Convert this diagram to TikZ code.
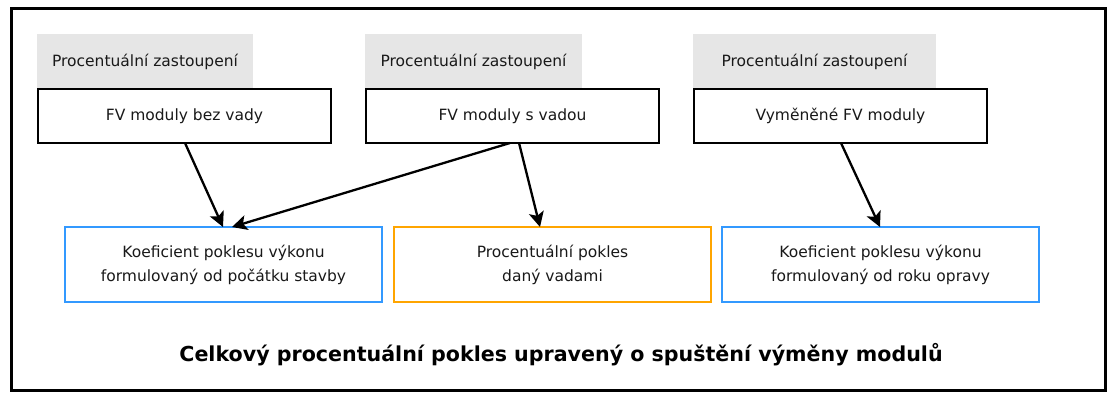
\documentclass[tikz,border=0pt]{standalone}
\usepackage{fontspec}
\setmainfont{DejaVu Sans}
\usetikzlibrary{arrows.meta,calc}
\definecolor{grayfill}{HTML}{E6E6E6}
\definecolor{boxblue}{HTML}{3399FF}
\definecolor{boxorange}{HTML}{FFA500}
\tikzset{
  pct/.style={anchor=north west, fill=grayfill, draw=none, inner sep=0pt, outer sep=0pt,
    font=\fontsize{15.5}{18}\selectfont, text=black!90},
  modbox/.style={anchor=north west, draw=black, line width=2.3pt, fill=white, inner sep=0pt, outer sep=0pt,
    minimum width=293pt, minimum height=54pt, font=\fontsize{15.5}{18}\selectfont, text=black!90},
  coefbox/.style={anchor=north west, line width=2.3pt, fill=white, inner sep=0pt, outer sep=0pt,
    minimum width=317pt, minimum height=75pt, align=center, font=\fontsize{15.5}{24}\selectfont, text=black!90},
  conn/.style={line width=2.3pt, -{Stealth[length=15pt,width=15pt,inset=3.5pt]}},
}
\begin{document}
\begin{tikzpicture}[x=1pt,y=-1pt]
\useasboundingbox (0,0) rectangle (1115,392);
\draw[line width=3pt] (11,8) rectangle (1105,390);
% grey header boxes
\node[pct, minimum width=216pt, minimum height=55pt] (g1) at (37,34) {Procentuální zastoupení};
\node[pct, minimum width=217pt, minimum height=55pt] (g2) at (365,34) {Procentuální zastoupení};
\node[pct, minimum width=243pt, minimum height=55pt] (g3) at (693,34) {Procentuální zastoupení};
% module boxes
\node[modbox] (m1) at (38,89) {FV moduly bez vady};
\node[modbox] (m2) at (366,89) {FV moduly s vadou};
\node[modbox] (m3) at (694,89) {Vyměněné FV moduly};
% bottom boxes
\node[coefbox, draw=boxblue] (c1) at (65,227) {Koeficient poklesu výkonu\\formulovaný od počátku stavby};
\node[coefbox, draw=boxorange] (c2) at (394,227) {Procentuální pokles\\daný vadami};
\node[coefbox, draw=boxblue] (c3) at (722,227) {Koeficient poklesu výkonu\\formulovaný od roku opravy};
% title
\node[font=\bfseries\fontsize{20.6}{24}\selectfont, text=black] (t) at (561,355) {Celkový procentuální pokles upravený o spuštění výměny modulů};
% connectors
\draw[conn] ([xshift=147pt]m1.south west) -- ([xshift=158pt]c1.north west);
\draw[conn] ([xshift=144pt]m2.south west) -- ([xshift=167pt]c1.north west);
\draw[conn] ([xshift=153pt]m2.south west) -- ([xshift=146pt]c2.north west);
\draw[conn] ([xshift=147pt]m3.south west) -- ([xshift=158pt]c3.north west);
\end{tikzpicture}
\end{document}
